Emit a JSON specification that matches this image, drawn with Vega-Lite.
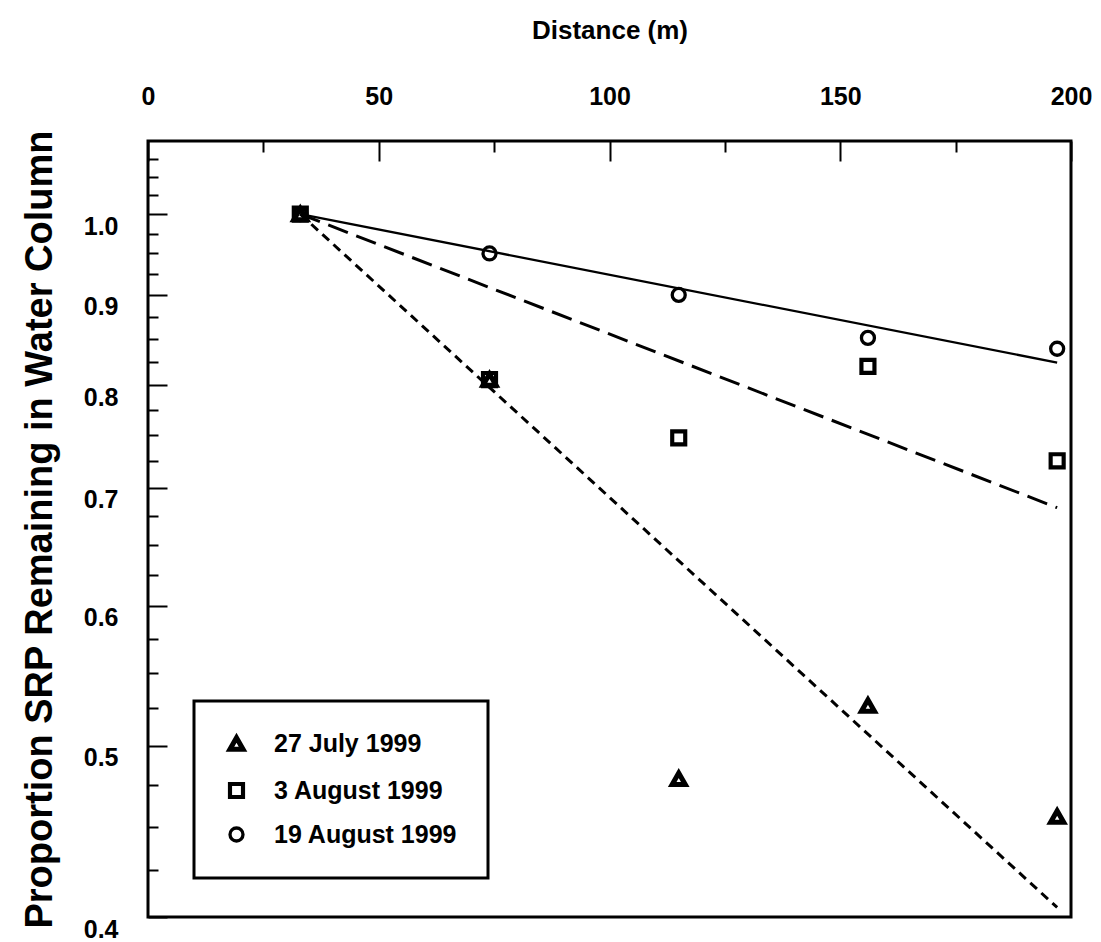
{
  "$schema": "https://vega.github.io/schema/vega-lite/v6.json",
  "width": 923,
  "height": 776,
  "autosize": "none",
  "padding": {"left": 148, "top": 141, "right": 30, "bottom": 25},
  "background": "white",
  "view": {"stroke": "black", "strokeWidth": 3},
  "config": {
    "font": "Liberation Sans",
    "axis": {
      "labelFont": "Liberation Sans",
      "labelFontWeight": "bold",
      "labelFontSize": 25,
      "labelColor": "black",
      "titleFont": "Liberation Sans",
      "titleFontWeight": "bold",
      "titleColor": "black",
      "domain": false,
      "grid": false,
      "tickColor": "black",
      "tickWidth": 2,
      "labelFlush": false,
      "labelOverlap": false
    },
    "legend": {"strokeWidth": 3}
  },
  "datasets": {
    "samples": [
      {"series": "27 July 1999", "distance": 33, "proportion": 1.0},
      {"series": "27 July 1999", "distance": 74, "proportion": 0.806},
      {"series": "27 July 1999", "distance": 115, "proportion": 0.479},
      {"series": "27 July 1999", "distance": 156, "proportion": 0.527},
      {"series": "27 July 1999", "distance": 197, "proportion": 0.456},
      {"series": "3 August 1999", "distance": 33, "proportion": 1.0},
      {"series": "3 August 1999", "distance": 74, "proportion": 0.806},
      {"series": "3 August 1999", "distance": 115, "proportion": 0.747},
      {"series": "3 August 1999", "distance": 156, "proportion": 0.82},
      {"series": "3 August 1999", "distance": 197, "proportion": 0.725},
      {"series": "19 August 1999", "distance": 33, "proportion": 1.0},
      {"series": "19 August 1999", "distance": 74, "proportion": 0.95},
      {"series": "19 August 1999", "distance": 115, "proportion": 0.9},
      {"series": "19 August 1999", "distance": 156, "proportion": 0.851},
      {"series": "19 August 1999", "distance": 197, "proportion": 0.839}
    ],
    "fits": [
      {"series": "27 July 1999", "distance": 33, "fit": 1.0},
      {"series": "27 July 1999", "distance": 197, "fit": 0.405},
      {"series": "3 August 1999", "distance": 33, "fit": 1.0},
      {"series": "3 August 1999", "distance": 197, "fit": 0.682},
      {"series": "19 August 1999", "distance": 33, "fit": 1.0},
      {"series": "19 August 1999", "distance": 197, "fit": 0.824}
    ]
  },
  "layer": [
    {
      "data": {"name": "fits"},
      "transform": [{"filter": "datum.series !== '19 August 1999'"}],
      "mark": {"type": "line", "color": "black", "strokeCap": "butt", "strokeWidth": 3},
      "encoding": {
        "x": {
          "field": "distance",
          "type": "quantitative",
          "scale": {"domain": [0, 200], "nice": false, "zero": false},
          "axis": {
            "orient": "top",
            "values": [0, 50, 100, 150, 200],
            "tickSize": -20,
            "labelPadding": 52,
            "title": "Distance (m)",
            "titleFontSize": 26,
            "titlePadding": 41
          }
        },
        "y": {
          "field": "fit",
          "type": "quantitative",
          "scale": {"type": "log", "domain": [0.4, 1.1], "nice": false},
          "axis": {
            "orient": "left",
            "values": [0.4, 0.5, 0.6, 0.7, 0.8, 0.9, 1.0],
            "format": ".1f",
            "tickSize": -19,
            "labelPadding": 49,
            "labelBaseline": "top",
            "title": "Proportion SRP Remaining in Water Column",
            "titleFontSize": 38,
            "titlePadding": 24
          }
        },
        "strokeDash": {
          "field": "series",
          "type": "nominal",
          "scale": {
            "domain": ["27 July 1999", "3 August 1999"],
            "range": [[9, 6], [21, 9]]
          },
          "legend": null
        }
      }
    },
    {
      "data": {"name": "fits"},
      "transform": [{"filter": "datum.series === '19 August 1999'"}],
      "mark": {"type": "line", "color": "black", "strokeCap": "butt", "strokeWidth": 2.3},
      "encoding": {
        "x": {"field": "distance", "type": "quantitative", "axis": null},
        "y": {"field": "fit", "type": "quantitative", "axis": null}
      }
    },
    {
      "data": {"name": "samples"},
      "mark": {"type": "point", "filled": false, "color": "black", "opacity": 1},
      "encoding": {
        "x": {
          "field": "distance",
          "type": "quantitative",
          "axis": {
            "orient": "top",
            "values": [25, 75, 125, 175],
            "tickSize": -11,
            "labels": false,
            "title": null
          }
        },
        "y": {
          "field": "proportion",
          "type": "quantitative",
          "axis": {
            "orient": "left",
            "values": [0.425, 0.45, 0.475, 0.525, 0.55, 0.575, 0.625, 0.65, 0.675, 0.725, 0.75, 0.775, 0.825, 0.85, 0.875, 0.925, 0.95, 0.975, 1.025, 1.05, 1.075],
            "tickSize": -10,
            "labels": false,
            "title": null
          }
        },
        "shape": {
          "field": "series",
          "type": "nominal",
          "scale": {
            "domain": ["27 July 1999", "3 August 1999", "19 August 1999"],
            "range": ["triangle-up", "square", "circle"]
          },
          "legend": {
            "title": null,
            "orient": "none",
            "legendX": 46,
            "legendY": 560,
            "padding": 30,
            "strokeColor": "black",
            "labelFont": "Liberation Sans",
            "labelFontWeight": "bold",
            "labelFontSize": 25,
            "labelColor": "black",
            "labelLimit": 400,
            "labelOffset": 25,
            "rowPadding": 15,
            "symbolStrokeColor": "black"
          }
        },
        "size": {
          "field": "series",
          "type": "nominal",
          "scale": {
            "domain": ["27 July 1999", "3 August 1999", "19 August 1999"],
            "range": [170, 169, 180]
          }
        },
        "strokeWidth": {
          "field": "series",
          "type": "nominal",
          "scale": {
            "domain": ["27 July 1999", "3 August 1999", "19 August 1999"],
            "range": [5, 3.3, 3.3]
          }
        }
      }
    }
  ],
  "resolve": {
    "axis": {"x": "independent", "y": "independent"}
  }
}
